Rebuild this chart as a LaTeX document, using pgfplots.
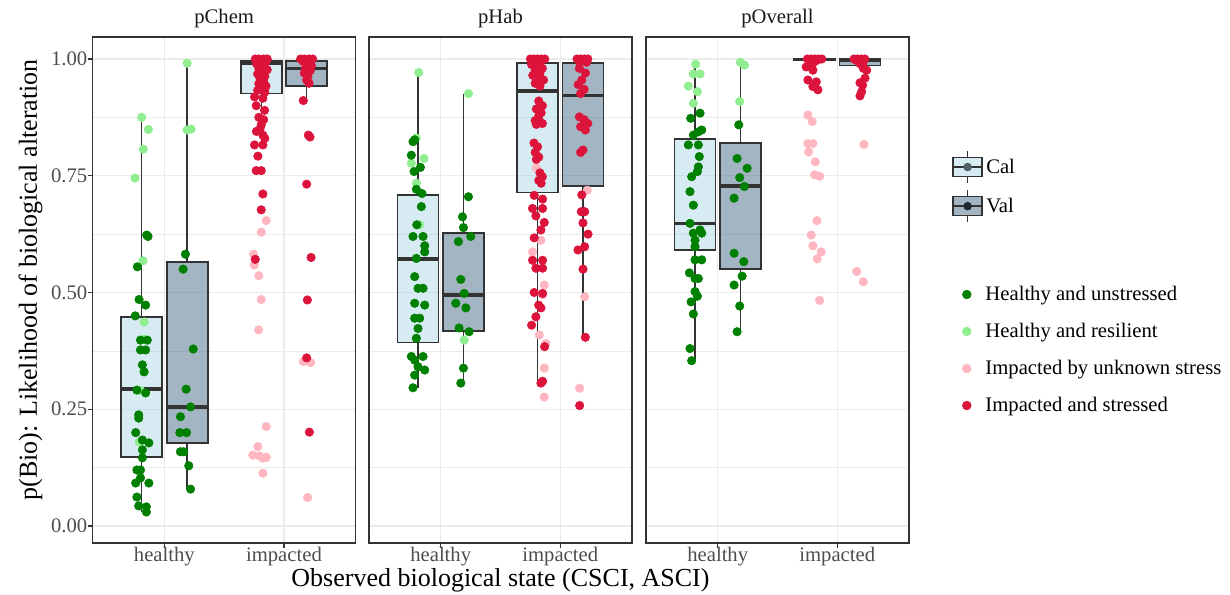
\documentclass[border=0pt]{standalone}
\usepackage{fontspec}
\setmainfont{Liberation Serif}
\usepackage{pgfplots}
\pgfplotsset{compat=1.18}
\usepgfplotslibrary{statistics}

\definecolor{hu}{HTML}{008000}
\definecolor{hr}{HTML}{90EE90}
\definecolor{iu}{HTML}{FFB6C1}
\definecolor{is}{HTML}{DC143C}
\definecolor{calfill}{HTML}{ADD8E6}
\definecolor{valfill}{HTML}{476985}
\definecolor{boxline}{HTML}{333333}
\definecolor{gridc}{HTML}{EBEBEB}
\definecolor{grey30}{HTML}{4D4D4D}

\newcommand\smallfont{\fontsize{15.5}{18}\selectfont}
\newcommand\bigfont{\fontsize{19.5}{23}\selectfont}

\pgfplotsset{
  panel/.style={
    width=197.25pt, height=379.5pt, scale only axis,
    xmin=0.4, xmax=2.6, ymin=-0.0364, ymax=1.0471,
    xtick={1,2}, xticklabels={healthy,impacted},
    ytick={0,0.25,0.5,0.75,1}, minor ytick={0.125,0.375,0.625,0.875},
    grid=both,
    major grid style={draw=gridc, line width=1.1pt},
    minor grid style={draw=gridc, line width=0.55pt},
    axis line style={draw=boxline, line width=0.9pt},
    tick align=outside, tick pos=left,
    major tick length=3.5pt, minor tick length=0pt,
    tick style={draw=boxline, line width=0.9pt},
    ticklabel style={font=\smallfont, text=grey30},
    xticklabel style={yshift=4pt},
    yticklabel style={xshift=3pt},
    title style={font=\smallfont, text=black!90, at={(axis description cs:0.5,1)}, anchor=south, inner sep=0pt, yshift=1pt},
    clip=false,
  },
  boxbase/.style={boxplot/draw direction=y, boxplot/box extend=0.343, boxplot/whisker extend=0,
    draw=boxline, fill opacity=0.5, line width=1pt,
    boxplot/every box/.style={line width=1.4pt},
    boxplot/every median/.style={line width=2.6pt}},
  calbox/.style={boxbase, fill=calfill},
  valbox/.style={boxbase, fill=valfill},
  pHU/.style={only marks, mark=*, mark size=3.2pt, color=hu},
  pHR/.style={only marks, mark=*, mark size=3.2pt, color=hr},
  pIU/.style={only marks, mark=*, mark size=3.2pt, color=iu},
  pIS/.style={only marks, mark=*, mark size=3.2pt, color=is},
}

\begin{document}
\begin{tikzpicture}
\useasboundingbox (0,0) rectangle (922.5pt,445.5pt);

% ---------------- pChem ----------------
\begin{axis}[panel, at={(69.5pt,38.25pt)}, anchor=south west, title={pChem},
  yticklabels={0.00,0.25,0.50,0.75,1.00},
  ylabel={p(Bio): Likelihood of biological alteration},
  ylabel style={font=\bigfont, text=black, at={(axis description cs:-0.19,0.52)}, anchor=south, inner sep=0pt}]
\addplot[pHR] coordinates {(0.81,0.875)(0.866,0.849)(0.824,0.807)(0.754,0.745)(0.821,0.568)(0.83,0.437)
 (0.83,0.40)(0.80,0.29)(0.79,0.18)
 (1.19,0.991)(1.19,0.848)(1.223,0.850)};
\addplot[pHU] coordinates {(0.852,0.623)(0.863,0.620)(0.774,0.555)(0.788,0.485)(0.843,0.473)(0.756,0.450)
 (0.80,0.398)(0.857,0.398)(0.80,0.377)(0.843,0.377)(0.816,0.345)(0.83,0.33)(0.77,0.291)(0.843,0.285)
 (0.785,0.238)(0.785,0.231)(0.76,0.20)(0.816,0.184)(0.87,0.178)(0.816,0.163)
 (0.816,0.146)(0.77,0.12)(0.80,0.12)(0.80,0.103)(0.76,0.092)(0.87,0.092)(0.77,0.062)(0.785,0.043)(0.849,0.041)(0.849,0.030)
 (1.176,0.582)(1.157,0.550)(1.241,0.379)(1.182,0.293)(1.219,0.255)(1.134,0.234)(1.129,0.200)(1.185,0.200)
 (1.134,0.159)(1.162,0.159)(1.204,0.129)(1.219,0.079)};
\addplot[pIU] coordinates {(1.852,0.654)(1.81,0.629)(1.746,0.582)(1.751,0.559)(1.79,0.536)(1.81,0.485)(1.788,0.420)
 (1.852,0.213)(1.782,0.170)(1.74,0.152)(1.796,0.150)(1.852,0.147)(1.824,0.145)(1.824,0.113)
 (2.162,0.352)(2.223,0.350)(2.198,0.061)};
\addplot[pIS] coordinates {(1.76,1.0)(1.79,1.0)(1.83,1.0)(1.86,1.0)(1.78,0.998)(1.82,0.997)(1.85,0.995)(1.80,0.993)
 (1.77,0.99)(1.84,0.988)(1.81,0.985)(1.79,0.98)(1.86,0.977)(1.82,0.972)(1.78,0.968)(1.84,0.963)(1.80,0.958)
 (1.83,0.952)(1.79,0.947)(1.85,0.942)(1.81,0.937)(1.78,0.933)(1.84,0.929)
 (1.754,0.919)(1.824,0.916)(1.768,0.90)(1.838,0.89)(1.79,0.875)(1.83,0.87)(1.81,0.859)(1.80,0.85)(1.77,0.845)
 (1.824,0.837)(1.84,0.83)(1.754,0.816)(1.824,0.816)(1.782,0.792)(1.768,0.761)(1.81,0.761)(1.824,0.711)(1.81,0.677)(1.76,0.571)
 (2.14,1.0)(2.17,1.0)(2.21,1.0)(2.24,1.0)(2.16,0.995)(2.20,0.99)(2.23,0.985)(2.18,0.98)(2.22,0.975)(2.17,0.97)
 (2.20,0.962)(2.19,0.955)(2.21,0.948)(2.162,0.911)(2.204,0.837)(2.218,0.833)(2.19,0.732)(2.227,0.575)(2.196,0.484)
 (2.19,0.360)(2.213,0.201)};
\addplot[calbox, boxplot prepared={draw position=0.81, lower whisker=0.031, lower quartile=0.148, median=0.293, upper quartile=0.447, upper whisker=0.875}] coordinates {};
\addplot[valbox, boxplot prepared={draw position=1.19, lower whisker=0.079, lower quartile=0.178, median=0.255, upper quartile=0.565, upper whisker=0.991}] coordinates {};
\addplot[calbox, boxplot prepared={draw position=1.81, lower whisker=0.823, lower quartile=0.926, median=0.990, upper quartile=0.996, upper whisker=1.0}] coordinates {};
\addplot[valbox, boxplot prepared={draw position=2.19, lower whisker=0.911, lower quartile=0.942, median=0.980, upper quartile=0.996, upper whisker=1.0}] coordinates {};
\end{axis}

% ---------------- pHab ----------------
\begin{axis}[panel, at={(276.75pt,38.25pt)}, anchor=south west, title={pHab},
  yticklabels={}, ytick style={draw=none},
  xlabel={Observed biological state (CSCI, ASCI)},
  xlabel style={font=\bigfont, text=black, at={(axis description cs:0.5,-0.05)}, anchor=north, inner sep=0pt}]
\addplot[pHR] coordinates {(0.816,0.971)(0.796,0.831)(0.86,0.787)(0.754,0.777)(0.796,0.734)(0.824,0.645)
 (1.232,0.926)(1.196,0.398)};
\addplot[pHU] coordinates {(0.782,0.827)(0.768,0.823)(0.754,0.794)(0.83,0.768)(0.777,0.759)(0.796,0.721)(0.843,0.712)
 (0.838,0.684)(0.80,0.645)(0.768,0.62)(0.852,0.62)(0.866,0.60)(0.866,0.587)(0.796,0.573)(0.782,0.534)(0.852,0.509)
 (0.81,0.509)(0.782,0.477)(0.866,0.473)(0.782,0.445)(0.824,0.445)(0.81,0.423)(0.796,0.402)(0.754,0.363)(0.852,0.363)
 (0.782,0.355)(0.866,0.334)(0.81,0.341)(0.782,0.323)(0.768,0.296)
 (1.232,0.705)(1.182,0.662)(1.19,0.639)(1.251,0.62)(1.148,0.609)(1.168,0.528)(1.196,0.498)(1.126,0.477)(1.21,0.467)
 (1.154,0.424)(1.237,0.416)(1.19,0.338)(1.168,0.306)};
\addplot[pIU] coordinates {(1.838,0.612)(1.768,0.587)(1.866,0.516)(1.852,0.495)(1.824,0.409)(1.88,0.391)(1.866,0.338)(1.866,0.276)(1.80,0.767)
 (2.226,0.719)(2.204,0.491)(2.162,0.295)};
\addplot[pIS] coordinates {(1.75,1.0)(1.78,1.0)(1.81,1.0)(1.84,1.0)(1.87,1.0)(1.77,0.995)(1.83,0.995)
 (1.76,0.988)(1.82,0.985)(1.85,0.98)(1.79,0.975)(1.83,0.97)(1.77,0.965)(1.81,0.96)(1.86,0.955)(1.79,0.948)(1.83,0.942)
 (1.82,0.91)(1.85,0.90)(1.80,0.893)(1.84,0.885)(1.82,0.878)
 (1.79,0.868)(1.83,0.865)(1.80,0.86)(1.85,0.862)
 (1.78,0.82)(1.81,0.812)(1.79,0.80)(1.82,0.79)(1.80,0.785)
 (1.83,0.756)(1.85,0.748)(1.82,0.74)(1.84,0.734)
 (1.782,0.708)(1.852,0.70)(1.768,0.68)(1.852,0.68)(1.796,0.664)(1.866,0.65)(1.838,0.634)(1.782,0.617)(1.768,0.569)
 (1.852,0.569)(1.796,0.552)(1.852,0.552)(1.782,0.50)(1.852,0.498)(1.819,0.473)(1.838,0.467)(1.796,0.448)(1.76,0.430)
 (1.869,0.384)(1.838,0.306)(1.852,0.31)
 (2.14,1.0)(2.17,1.0)(2.20,1.0)(2.23,1.0)(2.16,0.995)(2.22,0.993)
 (2.16,0.98)(2.21,0.97)(2.18,0.955)(2.15,0.945)(2.20,0.935)(2.17,0.926)
 (2.16,0.876)(2.20,0.87)(2.23,0.862)(2.17,0.855)(2.21,0.848)(2.19,0.805)(2.17,0.80)
 (2.18,0.709)(2.204,0.673)(2.176,0.673)(2.19,0.649)(2.232,0.625)(2.148,0.591)(2.204,0.598)(2.19,0.55)(2.21,0.404)(2.162,0.258)};
\addplot[calbox, boxplot prepared={draw position=0.81, lower whisker=0.296, lower quartile=0.393, median=0.572, upper quartile=0.709, upper whisker=0.971}] coordinates {};
\addplot[valbox, boxplot prepared={draw position=1.19, lower whisker=0.306, lower quartile=0.418, median=0.495, upper quartile=0.628, upper whisker=0.926}] coordinates {};
\addplot[calbox, boxplot prepared={draw position=1.81, lower whisker=0.306, lower quartile=0.714, median=0.931, upper quartile=0.991, upper whisker=1.0}] coordinates {};
\addplot[valbox, boxplot prepared={draw position=2.19, lower whisker=0.404, lower quartile=0.728, median=0.922, upper quartile=0.991, upper whisker=1.0}] coordinates {};
\end{axis}

% ---------------- pOverall ----------------
\begin{axis}[panel, at={(484.5pt,38.25pt)}, anchor=south west, title={pOverall},
  yticklabels={}, ytick style={draw=none}]
\addplot[pHR] coordinates {(0.816,0.989)(0.852,0.968)(0.796,0.968)(0.754,0.942)(0.83,0.93)(0.796,0.905)
 (1.19,0.993)(1.223,0.987)(1.184,0.909)};
\addplot[pHU] coordinates {(0.852,0.884)(0.774,0.873)(0.866,0.848)(0.838,0.844)(0.796,0.837)(0.754,0.816)(0.838,0.816)
 (0.846,0.791)(0.838,0.769)(0.83,0.759)(0.782,0.748)(0.768,0.716)(0.796,0.687)(0.768,0.648)(0.852,0.634)(0.796,0.627)
 (0.866,0.627)(0.81,0.612)(0.81,0.598)(0.81,0.570)(0.866,0.570)(0.763,0.542)(0.838,0.530)(0.81,0.530)(0.81,0.502)
 (0.83,0.492)(0.777,0.480)(0.796,0.454)(0.768,0.380)(0.782,0.354)
 (1.176,0.859)(1.162,0.787)(1.246,0.766)(1.184,0.746)(1.223,0.727)(1.137,0.702)(1.137,0.584)(1.218,0.566)
 (1.204,0.535)(1.137,0.516)(1.184,0.471)(1.162,0.416)};
\addplot[pIU] coordinates {(1.754,0.88)(1.79,0.866)(1.754,0.819)(1.796,0.819)(1.76,0.801)(1.816,0.78)(1.81,0.752)(1.852,0.749)
 (1.83,0.654)(1.782,0.623)(1.796,0.600)(1.866,0.587)(1.832,0.572)(1.852,0.483)
 (2.223,0.817)(2.162,0.545)(2.218,0.523)};
\addplot[pIS] coordinates {(1.75,1.0)(1.78,1.0)(1.81,1.0)(1.84,1.0)(1.87,1.0)(1.77,0.997)(1.83,0.997)(1.80,0.993)(1.79,0.988)
 (1.74,0.983)(1.796,0.976)(1.754,0.955)(1.824,0.951)(1.796,0.941)(1.838,0.934)
 (2.14,1.0)(2.17,1.0)(2.20,1.0)(2.23,1.0)(2.16,0.997)(2.22,0.995)(2.19,0.99)(2.218,0.98)(2.246,0.976)(2.232,0.959)
 (2.19,0.949)(2.212,0.944)(2.204,0.93)(2.19,0.921)};
\addplot[calbox, boxplot prepared={draw position=1.81, lower whisker=0.993, lower quartile=0.997, median=0.999, upper quartile=1.0, upper whisker=1.0}] coordinates {};
\addplot[calbox, boxplot prepared={draw position=0.81, lower whisker=0.354, lower quartile=0.591, median=0.648, upper quartile=0.828, upper whisker=0.989}] coordinates {};
\addplot[valbox, boxplot prepared={draw position=1.19, lower whisker=0.416, lower quartile=0.550, median=0.728, upper quartile=0.821, upper whisker=0.993}] coordinates {};
\addplot[valbox, boxplot prepared={draw position=2.19, lower whisker=0.983, lower quartile=0.986, median=0.997, upper quartile=1.0, upper whisker=1.0}] coordinates {};
\end{axis}

% ---------------- legends ----------------
\begin{axis}[at={(0pt,0pt)}, anchor=south west, width=922.5pt, height=445.5pt, scale only axis,
  xmin=0, xmax=1230, ymin=0, ymax=594, hide axis,
  legend cell align=left,
  legend style={draw=none, fill=none, at={(0.774,0.747)}, anchor=north west, font=\smallfont,
    row sep=4.5pt, column sep=0pt, inner sep=0pt, nodes={inner sep=2.5pt}}]
\addlegendimage{legend image code/.code={
  \draw[boxline, line width=1pt] (10.9pt,7.1pt)--(10.9pt,11.9pt) (10.9pt,-7.1pt)--(10.9pt,-11.9pt);
  \draw[boxline, line width=1.2pt, fill=calfill, fill opacity=0.5] (0pt,-7.1pt) rectangle (21.75pt,7.1pt);
  \draw[boxline, line width=1.2pt] (0pt,0pt)--(21.75pt,0pt);
  \fill[black!55!calfill] (10.9pt,0pt) circle (3pt);}}
\addlegendentry{Cal}
\addlegendimage{legend image code/.code={
  \draw[boxline, line width=1pt] (10.9pt,7.1pt)--(10.9pt,11.9pt) (10.9pt,-7.1pt)--(10.9pt,-11.9pt);
  \draw[boxline, line width=1.2pt, fill=valfill, fill opacity=0.5] (0pt,-7.1pt) rectangle (21.75pt,7.1pt);
  \draw[boxline, line width=1.2pt] (0pt,0pt)--(21.75pt,0pt);
  \fill[black!60!valfill] (10.9pt,0pt) circle (3pt);}}
\addlegendentry{Val}
\end{axis}

\begin{axis}[at={(0pt,0pt)}, anchor=south west, width=922.5pt, height=445.5pt, scale only axis,
  xmin=0, xmax=1230, ymin=0, ymax=594, hide axis,
  legend cell align=left,
  legend style={draw=none, fill=none, at={(0.782,0.524)}, anchor=north west, font=\smallfont,
    row sep=10.5pt, column sep=8pt, inner sep=0pt, nodes={inner sep=2.5pt}}]
\addlegendimage{legend image code/.code={\fill[hu] (0pt,0pt) circle (3.3pt);}}
\addlegendentry{Healthy and unstressed}
\addlegendimage{legend image code/.code={\fill[hr] (0pt,0pt) circle (3.3pt);}}
\addlegendentry{Healthy and resilient}
\addlegendimage{legend image code/.code={\fill[iu] (0pt,0pt) circle (3.3pt);}}
\addlegendentry{Impacted by unknown stress}
\addlegendimage{legend image code/.code={\fill[is] (0pt,0pt) circle (3.3pt);}}
\addlegendentry{Impacted and stressed}
\end{axis}
\end{tikzpicture}
\end{document}
